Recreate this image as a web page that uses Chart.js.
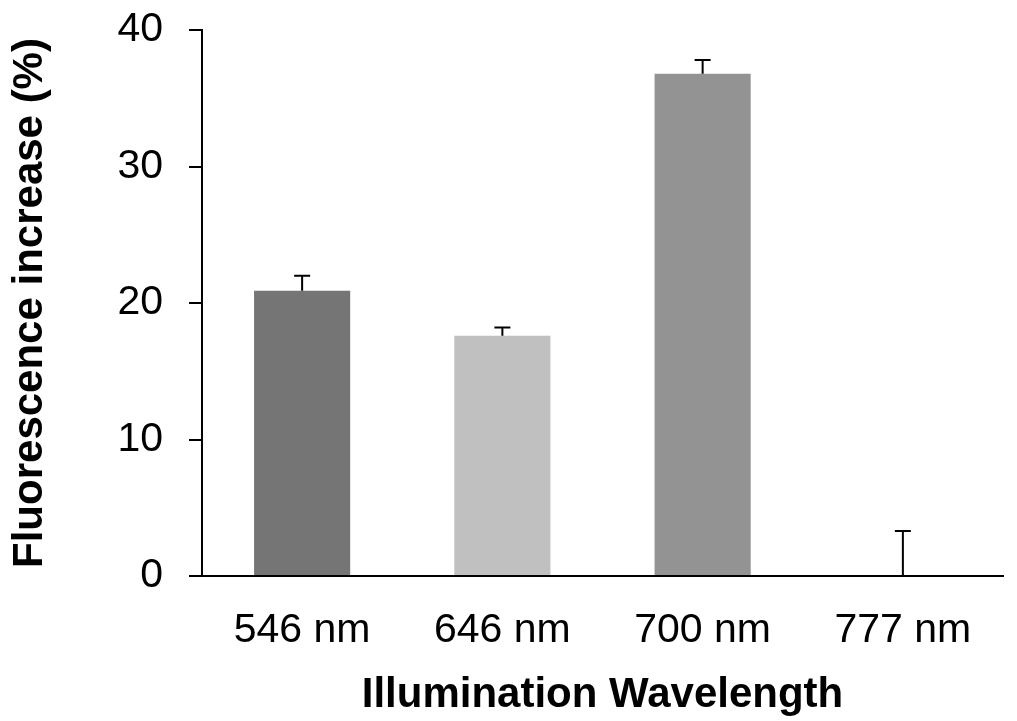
<!DOCTYPE html>
<html>
<head>
<meta charset="utf-8">
<script src="https://cdn.jsdelivr.net/npm/chart.js@4"></script>
<style>
    html, body { margin: 0; padding: 0; background: #fff; }
    #wrap { width: 1017px; height: 721px; }
</style>
</head>
<body>
<div id="wrap"><canvas id="chart" width="1017" height="721"></canvas></div>
<script>
// Chart data
const categories = ['546 nm', '646 nm', '700 nm', '777 nm'];
const values = [20.9, 17.6, 36.8, 0];
const errors = [1.1, 0.6, 1.0, 3.3];
const barColors = ['#757575', '#c0c0c0', '#939393', '#939393'];
const yTicks = [0, 10, 20, 30, 40];

const font = 'Arial, "Liberation Sans", sans-serif';

// draws the upper error bar (T shape) above each bar
const errorBars = {
    id: 'errorBars',
    afterDatasetsDraw(chart) {
        const ctx = chart.ctx;
        const meta = chart.getDatasetMeta(0);
        const y = chart.scales.y;
        ctx.save();
        ctx.strokeStyle = '#000';
        ctx.lineWidth = 2;
        meta.data.forEach((bar, i) => {
            const base = y.getPixelForValue(values[i]);
            const top = y.getPixelForValue(values[i] + errors[i]);
            ctx.beginPath();
            ctx.moveTo(bar.x, base);
            ctx.lineTo(bar.x, top);
            ctx.moveTo(bar.x - 8, top);
            ctx.lineTo(bar.x + 8, top);
            ctx.stroke();
        });
        ctx.restore();
    }
};

new Chart(document.getElementById('chart'), {
    type: 'bar',
    data: {
        labels: categories,
        datasets: [{
            data: values,
            backgroundColor: barColors,
            borderWidth: 0,
            barPercentage: 1,
            categoryPercentage: 0.48
        }]
    },
    options: {
        responsive: false,
        animation: false,
        layout: { padding: { left: 5, top: 30, right: 14, bottom: 0 } },
        plugins: {
            legend: { display: false },
            tooltip: { enabled: false }
        },
        scales: {
            x: {
                grid: { display: false, drawTicks: false },
                border: { display: true, color: '#000', width: 2 },
                ticks: { color: '#000', padding: 30, font: { family: font, size: 41 } },
                title: {
                    display: true,
                    text: 'Illumination Wavelength',
                    color: '#000',
                    font: { family: font, size: 42, weight: 'bold' },
                    padding: { top: 0, bottom: 0 }
                },
                afterFit(scale) { scale.height = 145; }
            },
            y: {
                min: 0,
                max: 40,
                afterBuildTicks(scale) { scale.ticks = yTicks.map(v => ({ value: v })); },
                grid: { drawOnChartArea: false, drawTicks: true, tickLength: 13, color: '#000', lineWidth: 2 },
                border: { display: true, color: '#000', width: 2 },
                ticks: { color: '#000', padding: 26, font: { family: font, size: 41 } },
                title: {
                    display: true,
                    text: 'Fluorescence increase (%)',
                    color: '#000',
                    font: { family: font, size: 42, weight: 'bold' },
                    padding: { top: 0, bottom: 0 }
                },
                afterFit(scale) {
                    scale.width = 197;
                    scale.paddingTop = 0;
                    scale.paddingBottom = 0;
                }
            }
        }
    },
    plugins: [errorBars]
});
</script>
</body>
</html>
